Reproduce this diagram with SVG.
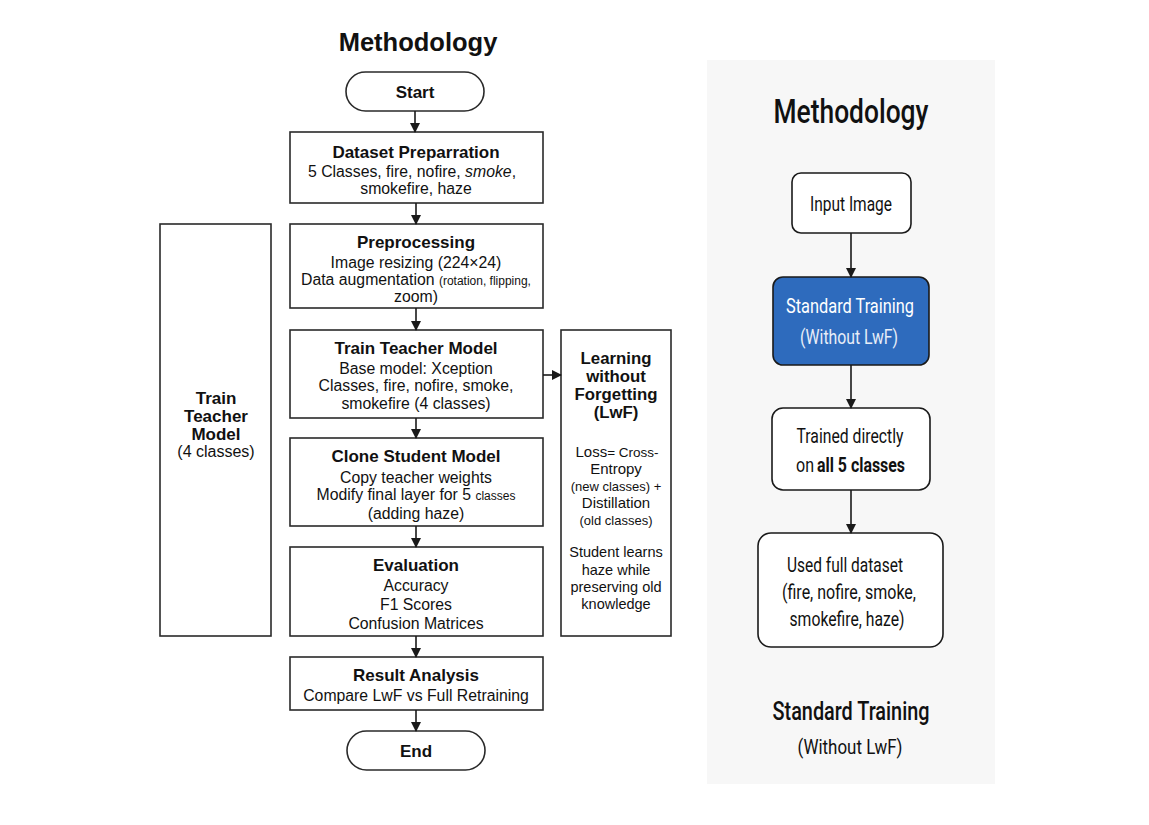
<svg xmlns="http://www.w3.org/2000/svg" width="1149" height="825" viewBox="0 0 1149 825">
<defs>
<marker id="ah" markerWidth="10" markerHeight="10" refX="9" refY="5" orient="auto" markerUnits="userSpaceOnUse">
<path d="M0,0 L10,5 L0,10 z" fill="#1a1a1a"/>
</marker>
<style>
.box{fill:#fff;stroke:#2a2a2a;stroke-width:1.6}
.rbox{fill:#fff;stroke:#1a1a1a;stroke-width:1.6}
.t{font-family:"Liberation Sans",Arial,sans-serif;fill:#111;text-anchor:middle}
.h{font-weight:bold;font-size:17px}
.b{font-size:15.8px}
.r{font-family:Roboto,"Liberation Sans",sans-serif;fill:#111;text-anchor:middle}
.con{stroke:#1a1a1a;stroke-width:1.6;fill:none}
</style>
</defs>
<rect width="1149" height="825" fill="#fff"/>
<rect x="707" y="60" width="288" height="724" fill="#f7f7f7"/>

<text class="t" x="418" y="51" font-size="25.5" font-weight="bold">Methodology</text>

<g id="start">
<rect class="box" x="346" y="72" width="138" height="39" rx="19.5"/>
<text class="t h" x="415" y="98">Start</text>
</g>
<g id="dataset">
<rect class="box" x="290" y="132" width="253" height="71"/>
<text class="t h" x="416" y="158">Dataset Preparration</text>
<text class="t b" x="412" y="177" font-size="16.3">5 Classes, fire, nofire, <tspan font-style="italic">smoke</tspan>,</text>
<text class="t b" x="416" y="194">smokefire, haze</text>
</g>
<g id="preprocessing">
<rect class="box" x="290" y="224" width="253" height="84"/>
<text class="t h" x="416" y="248">Preprocessing</text>
<text class="t b" x="416" y="268">Image resizing (224×24)</text>
<text class="t b" x="416" y="285">Data augmentation <tspan font-size="12">(rotation, flipping,</tspan></text>
<text class="t b" x="416" y="302">zoom)</text>
</g>
<g id="teacher">
<rect class="box" x="290" y="330" width="253" height="88"/>
<text class="t h" x="416" y="354">Train Teacher Model</text>
<text class="t b" x="416" y="374">Base model: Xception</text>
<text class="t b" x="416" y="391">Classes, fire, nofire, smoke,</text>
<text class="t b" x="416" y="409">smokefire (4 classes)</text>
</g>
<g id="student">
<rect class="box" x="290" y="438" width="253" height="88"/>
<text class="t h" x="416" y="462">Clone Student Model</text>
<text class="t b" x="416" y="483">Copy teacher weights</text>
<text class="t b" x="416" y="500">Modify final layer for 5 <tspan font-size="12">classes</tspan></text>
<text class="t b" x="416" y="519">(adding haze)</text>
</g>
<g id="evaluation">
<rect class="box" x="290" y="547" width="253" height="89"/>
<text class="t h" x="416" y="571">Evaluation</text>
<text class="t b" x="416" y="591">Accuracy</text>
<text class="t b" x="416" y="610">F1 Scores</text>
<text class="t b" x="416" y="629">Confusion Matrices</text>
</g>
<g id="result">
<rect class="box" x="290" y="657" width="253" height="53"/>
<text class="t h" x="416" y="681">Result Analysis</text>
<text class="t b" x="416" y="701">Compare LwF vs Full Retraining</text>
</g>
<g id="end">
<rect class="box" x="347" y="731" width="138" height="39" rx="19.5"/>
<text class="t h" x="416" y="757">End</text>
</g>
<g id="trainTeacherSide">
<rect class="box" x="160" y="224" width="111" height="412"/>
<text class="t h" x="216" y="404">Train</text>
<text class="t h" x="216" y="422">Teacher</text>
<text class="t h" x="216" y="440">Model</text>
<text class="t" x="216" y="457" font-size="16">(4 classes)</text>
</g>
<g id="lwf">
<rect class="box" x="561" y="330" width="110" height="306"/>
<text class="t" x="616" y="364" font-size="16.8" font-weight="bold">Learning</text>
<text class="t" x="616" y="382" font-size="16.8" font-weight="bold">without</text>
<text class="t" x="616" y="400" font-size="16.8" font-weight="bold">Forgetting</text>
<text class="t" x="616" y="418" font-size="16.8" font-weight="bold">(LwF)</text>
<text class="t" x="617" y="457" font-size="15">Loss<tspan font-size="13.5">= Cross-</tspan></text>
<text class="t" x="616" y="474" font-size="15">Entropy</text>
<text class="t" x="616" y="491" font-size="13">(new classes) +</text>
<text class="t" x="616" y="508" font-size="15">Distillation</text>
<text class="t" x="616" y="525" font-size="13">(old classes)</text>
<text class="t" x="616" y="557" font-size="14.5">Student learns</text>
<text class="t" x="616" y="575" font-size="14.5">haze while</text>
<text class="t" x="616" y="592" font-size="14.5">preserving old</text>
<text class="t" x="616" y="609" font-size="14.5">knowledge</text>
</g>

<text class="r" x="851" y="123" font-size="34" font-weight="500" textLength="155" lengthAdjust="spacingAndGlyphs">Methodology</text>
<g id="inputImage">
<rect class="rbox" x="792" y="173" width="119" height="60" rx="9"/>
<text class="r" x="851" y="211" font-size="20" textLength="82" lengthAdjust="spacingAndGlyphs">Input Image</text>
</g>
<g id="standardTraining">
<rect x="773" y="277" width="156" height="88" rx="10" fill="#2e6bbd" stroke="#1a1a1a" stroke-width="1.6"/>
<text class="r" x="850" y="313" font-size="20" style="fill:#fff" textLength="128" lengthAdjust="spacingAndGlyphs">Standard Training</text>
<text class="r" x="849" y="344" font-size="20" style="fill:#e8eef8" textLength="98" lengthAdjust="spacingAndGlyphs">(Without LwF)</text>
</g>
<g id="trainedDirectly">
<rect class="rbox" x="772" y="408" width="158" height="82" rx="11"/>
<text class="r" x="850" y="443" font-size="20" textLength="107" lengthAdjust="spacingAndGlyphs">Trained directly</text>
<text class="r" x="805" y="472" font-size="20" textLength="18" lengthAdjust="spacingAndGlyphs">on</text>
<text class="r" x="861" y="472" font-size="20" font-weight="bold" textLength="88" lengthAdjust="spacingAndGlyphs">all 5 classes</text>
</g>
<g id="fullDataset">
<rect class="rbox" x="758" y="533" width="185" height="114" rx="13"/>
<text class="r" x="845" y="572" font-size="20" textLength="116" lengthAdjust="spacingAndGlyphs">Used full dataset</text>
<text class="r" x="849" y="599" font-size="20" textLength="134" lengthAdjust="spacingAndGlyphs">(fire, nofire, smoke,</text>
<text class="r" x="847" y="626" font-size="20" textLength="115" lengthAdjust="spacingAndGlyphs">smokefire, haze)</text>
</g>
<text class="r" x="851" y="720" font-size="26" font-weight="500" textLength="157" lengthAdjust="spacingAndGlyphs">Standard Training</text>
<text class="r" x="850" y="754" font-size="21" textLength="105" lengthAdjust="spacingAndGlyphs">(Without LwF)</text>

<g id="connectors">
<line class="con" x1="415" y1="111" x2="415" y2="132" marker-end="url(#ah)"/>
<line class="con" x1="416" y1="203" x2="416" y2="224" marker-end="url(#ah)"/>
<line class="con" x1="416" y1="308" x2="416" y2="330" marker-end="url(#ah)"/>
<line class="con" x1="416" y1="418" x2="416" y2="438" marker-end="url(#ah)"/>
<line class="con" x1="416" y1="526" x2="416" y2="547" marker-end="url(#ah)"/>
<line class="con" x1="416" y1="636" x2="416" y2="657" marker-end="url(#ah)"/>
<line class="con" x1="416" y1="710" x2="416" y2="731" marker-end="url(#ah)"/>
<line class="con" x1="543" y1="375" x2="561" y2="375" marker-end="url(#ah)"/>
<line class="con" x1="851" y1="233" x2="851" y2="277" marker-end="url(#ah)"/>
<line class="con" x1="851" y1="365" x2="851" y2="408" marker-end="url(#ah)"/>
<line class="con" x1="851" y1="490" x2="851" y2="533" marker-end="url(#ah)"/>
</g>
</svg>
